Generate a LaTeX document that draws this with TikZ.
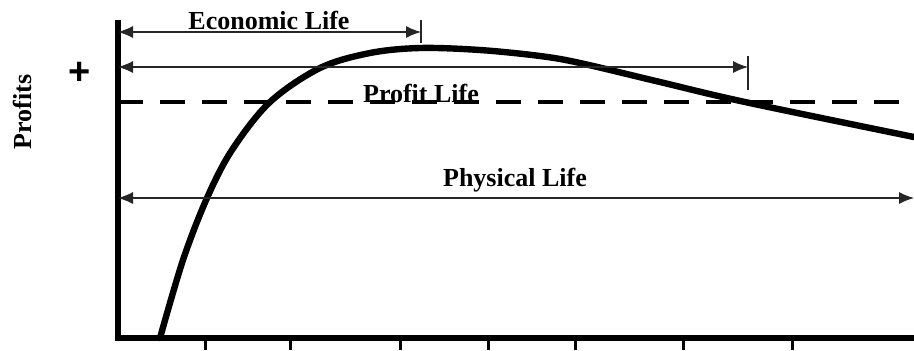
\documentclass[tikz,border=0pt]{standalone}
\usepackage{fontspec}
\setmainfont{Liberation Serif}
\newfontfamily\plusfont{Liberation Sans}
\usetikzlibrary{arrows.meta, positioning}

\begin{document}
\begin{tikzpicture}[x=0.5pt, y=-0.5pt,
    >={Latex[length=7.5pt,width=6pt]},
    lifearrow/.style={<->, line width=0.6pt, draw=black!85},   % dimension arrows
    endmark/.style={line width=0.6pt, draw=black!85},
    lifelabel/.style={font=\fontsize{13}{15}\selectfont\bfseries,
                      inner sep=0pt},
    axisline/.style={line width=2.6pt, line join=miter},
    profitcurve/.style={line width=3.2pt, line cap=round}]

  \useasboundingbox (0,0) rectangle (914,350);

  % Axes
  \coordinate (Top)    at (118,20);
  \coordinate (Origin) at (118,338);
  \coordinate (Right)  at (914,338);
  \draw[axisline] (Top) -- (Origin) -- (Right);
  \foreach \x in {205,290,400,488,575,683,792}
    \draw[line width=1.5pt] (\x,338) -- (\x,350);

  % Axis labels
  \node[lifelabel, rotate=90] (Profits) at (22,112) {Profits};
  \node[font=\fontsize{19}{19}\plusfont\bfseries, inner sep=0pt] (Plus) at (80,73) {+};

  % Break-even line
  \coordinate (ZeroL) at (118,102);
  \coordinate (ZeroR) at (914,102);
  \draw[line width=2pt, dash pattern=on 12.5pt off 8.5pt] (ZeroL) -- (ZeroR);

  % Profit curve
  \draw[profitcurve] plot[smooth, tension=0.55] coordinates
    {(160,338) (183,260) (207,198) (232,150) (270,102) (320,68) (370,53)
     (420,48) (480,50) (540,56) (580,63) (660,82) (745,102) (914,137)};

  % Economic life
  \coordinate (EcoL) at (118,32);
  \coordinate (EcoR) at (421,32);
  \draw[endmark] (421,20) -- (421,43);
  \draw[lifearrow] (EcoL) -- (EcoR);
  \node[lifelabel] (Economic) at (269,20) {Economic Life};

  % Profit life
  \coordinate (ProL) at (118,67);
  \coordinate (ProR) at (748,67);
  \draw[endmark] (748,56) -- (748,90);
  \draw[lifearrow] (ProL) -- (ProR);
  \node[lifelabel] (ProfitLife) at (421,93) {Profit Life};

  % Physical life
  \coordinate (PhyL) at (118,198);
  \coordinate (PhyR) at (914,198);
  \draw[lifearrow] (PhyL) -- (PhyR);
  \node[lifelabel] (Physical) at (515,180) {Physical Life};

\end{tikzpicture}
\end{document}
